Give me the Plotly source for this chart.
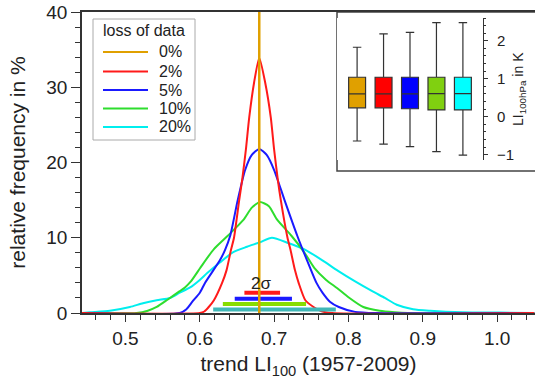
import plotly.graph_objects as go

# ---------------- data ----------------
series_labels = ["0%", "2%", "5%", "10%", "20%"]
legend_title = "loss of data"

trend_0 = 0.68  # no data loss: single value

red_x = [0.44, 0.600, 0.606, 0.612, 0.619, 0.630, 0.636, 0.642, 0.646, 0.653, 0.657, 0.662, 0.6665, 0.673,
         0.680, 0.688, 0.6955, 0.700, 0.705, 0.709, 0.718, 0.722, 0.728, 0.733, 0.742, 0.753, 0.763, 0.778, 1.05]
red_y = [0, 0, 0.2, 0.8, 1.7, 4.0, 5.7, 8.4, 10.0, 15.0, 17.7, 21.7, 26.0, 30.6,
         33.9, 30.6, 26.0, 21.7, 17.7, 15.0, 10.0, 8.4, 5.7, 4.0, 1.7, 0.8, 0.25, 0, 0]

blue_x = [0.44, 0.573, 0.582, 0.590, 0.600, 0.607, 0.627, 0.634, 0.641, 0.651, 0.661, 0.670,
          0.680, 0.690, 0.700, 0.714, 0.731, 0.748, 0.757, 0.765, 0.775, 0.787, 0.809, 0.838, 1.05]
blue_y = [0, 0, 0.5, 1.5, 2.7, 4.0, 7.0, 8.4, 10.3, 15.0, 19.0, 21.0,
          21.8, 21.0, 19.0, 15.0, 10.3, 6.1, 4.0, 2.7, 1.5, 0.8, 0.15, 0, 0]

green_x = [0.44, 0.515, 0.530, 0.542, 0.557, 0.573, 0.580, 0.588, 0.602, 0.619, 0.638, 0.659, 0.670,
           0.681, 0.693, 0.704, 0.723, 0.741, 0.754, 0.770, 0.785, 0.800, 0.820, 0.842, 0.862, 0.880, 1.05]
green_y = [0, 0, 0.3, 0.8, 1.8, 2.9, 3.4, 4.2, 6.2, 8.5, 10.3, 12.4, 14.0,
           14.75, 14.2, 12.4, 10.3, 8.0, 6.0, 4.4, 3.3, 2.1, 0.8, 0.3, 0.1, 0, 0]

cyan_x = [0.44, 0.452, 0.479, 0.506, 0.5235, 0.542, 0.560, 0.573, 0.587, 0.600, 0.610, 0.627, 0.645, 0.6635,
          0.681, 0.697, 0.719, 0.742, 0.765, 0.786, 0.809, 0.832, 0.849, 0.865, 0.887, 0.910, 0.954, 1.004, 1.05]
cyan_y = [0, 0.1, 0.3, 0.8, 1.3, 1.7, 2.0, 2.7, 3.4, 4.4, 5.3, 6.7, 8.1, 8.8,
          9.4, 10.0, 9.3, 8.4, 7.0, 5.6, 4.2, 2.9, 2.0, 1.1, 0.5, 0.3, 0.1, 0.05, 0]

# 2-sigma intervals (low, high) for 2%, 5%, 10%, 20%
sigma_lo = [0.660, 0.647, 0.631, 0.618]
sigma_hi = [0.708, 0.724, 0.743, 0.783]

# inset box-plot statistics (K)
box_q1 = [0.235, 0.235, 0.21, 0.18, 0.18]
box_median = [0.60, 0.60, 0.60, 0.61, 0.61]
box_q3 = [1.04, 1.04, 1.04, 1.04, 1.04]
box_low = [-0.64, -0.72, -0.79, -0.92, -1.01]
box_high = [1.83, 2.18, 2.22, 2.48, 2.48]

# ---------------- styles ----------------
FONT = "Liberation Sans, Arial, sans-serif"
AX = "#333333"
TXT = "#222222"
line_colors = {"0%": "#E0A000", "2%": "#FF1A1A", "5%": "#1A1AFF", "10%": "#2EDD2E", "20%": "#00EEEE"}
bar_colors = ["#FF1A1A", "#1A1AFF", "#88DD00", "#40B8B8"]
bar_levels = [2.7, 1.9, 1.2, 0.45]
box_colors = ["#E0A000", "#FF0000", "#0000FF", "#80D010", "#00FFFF"]

L, R, T, B = 82, 0, 12, 71
W, H = 535, 384
pw, ph = W - L - R, H - T - B

def px_x(p):
    return (p - L) / pw

def px_y(p):
    return (H - B - p) / ph

fig = go.Figure()

curves = [("20%", cyan_x, cyan_y), ("10%", green_x, green_y),
          ("5%", blue_x, blue_y), ("2%", red_x, red_y)]
for name, xs, ys in curves:
    fig.add_trace(go.Scatter(x=xs, y=ys, mode="lines", name=name, showlegend=False,
                             line=dict(color=line_colors[name], width=2, shape="spline", smoothing=0.6),
                             cliponaxis=False))

for lo, hi, lvl, col in zip(sigma_lo, sigma_hi, bar_levels, bar_colors):
    fig.add_trace(go.Scatter(x=[lo, hi], y=[lvl, lvl], mode="lines", showlegend=False,
                             line=dict(color=col, width=4), cliponaxis=False, hoverinfo="skip"))

fig.add_trace(go.Scatter(x=[trend_0, trend_0], y=[0, 40], mode="lines", name="0%", showlegend=False,
                         line=dict(color=line_colors["0%"], width=2.5), cliponaxis=False))

fig.add_annotation(x=trend_0 + 0.002, y=2.4, text="2σ", showarrow=False, xref="x", yref="y",
                   yanchor="bottom", font=dict(family=FONT, size=17, color=TXT))

# inset boxes
for i, lab in enumerate(series_labels):
    fig.add_trace(go.Box(x=[i], q1=[box_q1[i]], median=[box_median[i]], q3=[box_q3[i]],
                         lowerfence=[box_low[i]], upperfence=[box_high[i]],
                         fillcolor=box_colors[i], line=dict(color="#333333", width=1.2),
                         width=0.64, whiskerwidth=0.5, boxpoints=False, showlegend=False,
                         xaxis="x2", yaxis="y2", hoverinfo="skip"))

# inset frame
fig.add_shape(type="rect", xref="paper", yref="paper", x0=px_x(337), x1=px_x(545), y0=px_y(171), y1=1.0,
              line=dict(color="#444444", width=1.5), fillcolor="rgba(0,0,0,0)", layer="below")

# inset y-axis title
fig.add_annotation(xref="paper", yref="paper", x=px_x(519), y=px_y(89), text="LI<sub>100hPa</sub> in K",
                   textangle=-90, showarrow=False, xanchor="center", yanchor="middle",
                   font=dict(family=FONT, size=14, color=TXT))

# legend (drawn as a framed key)
fig.add_shape(type="rect", xref="paper", yref="paper", x0=px_x(93), x1=px_x(195), y0=px_y(140), y1=px_y(19),
              line=dict(color="#AAAAAA", width=1), fillcolor="white", layer="above")
fig.add_annotation(xref="paper", yref="paper", x=px_x(101), y=px_y(31), text=legend_title,
                   showarrow=False, xanchor="left", yanchor="middle",
                   font=dict(family=FONT, size=16, color=TXT))
legend_rows = [52, 71.5, 90, 108.5, 127]
for lab, row in zip(series_labels, legend_rows):
    fig.add_shape(type="line", xref="paper", yref="paper", x0=px_x(103), x1=px_x(148),
                  y0=px_y(row), y1=px_y(row), line=dict(color=line_colors[lab], width=2), layer="above")
    fig.add_annotation(xref="paper", yref="paper", x=px_x(157), y=px_y(row), text=lab,
                       showarrow=False, xanchor="left", yanchor="middle",
                       font=dict(family=FONT, size=16, color=TXT))

fig.update_layout(
    width=W, height=H, margin=dict(l=L, r=R, t=T, b=B, autoexpand=False),
    paper_bgcolor="white", plot_bgcolor="white",
    font=dict(family=FONT, color=TXT),
    showlegend=False,
    xaxis=dict(range=[0.4415, 1.051], showgrid=False, zeroline=False, automargin=False,
               showline=True, linecolor=AX, linewidth=1.5, mirror=True,
               ticks="outside", ticklen=7, tickwidth=1.3, tickcolor=AX,
               tickvals=[0.5, 0.6, 0.7, 0.8, 0.9, 1.0], ticktext=["0.5", "0.6", "0.7", "0.8", "0.9", "1.0"],
               minor=dict(dtick=0.02, tick0=0.5, ticks="outside", ticklen=5, tickwidth=1.2, tickcolor=AX),
               tickfont=dict(family=FONT, size=19, color=TXT),
               title=dict(text="trend LI<sub>100</sub> (1957-2009)", font=dict(family=FONT, size=21, color=TXT),
                          standoff=9),
               layer="below traces"),
    yaxis=dict(range=[0, 40], showgrid=False, zeroline=False, automargin=False,
               showline=True, linecolor=AX, linewidth=1.5, mirror=False,
               ticks="outside", ticklen=9, tickwidth=1.3, tickcolor=AX, dtick=10,
               minor=dict(dtick=2, ticks="outside", ticklen=5, tickwidth=1.2, tickcolor=AX),
               tickfont=dict(family=FONT, size=19, color=TXT),
               title=dict(text="relative frequency in %", font=dict(family=FONT, size=21, color=TXT),
                          standoff=15),
               layer="below traces"),
    xaxis2=dict(domain=[px_x(337), px_x(483)], anchor="y2", range=[-0.76, 4.76], automargin=False,
                showgrid=False, zeroline=False, showline=False, showticklabels=False, ticks=""),
    yaxis2=dict(domain=[px_y(160), px_y(18)], anchor="x2", side="right", range=[-1.14, 2.6], automargin=False,
                showgrid=False, zeroline=False, showline=True, linecolor=AX, linewidth=1.2,
                ticks="outside", ticklen=4, tickwidth=1, tickcolor=AX, dtick=1,
                minor=dict(dtick=0.2, ticks="outside", ticklen=2, tickwidth=1, tickcolor=AX),
                ticklabelstandoff=6,
                tickfont=dict(family=FONT, size=15, color=TXT)),
)

fig.write_html("out.html", config={"displayModeBar": False},
               post_script="document.body.style.margin='0';document.body.style.padding='0';"
                           "document.body.style.overflow='hidden';")
